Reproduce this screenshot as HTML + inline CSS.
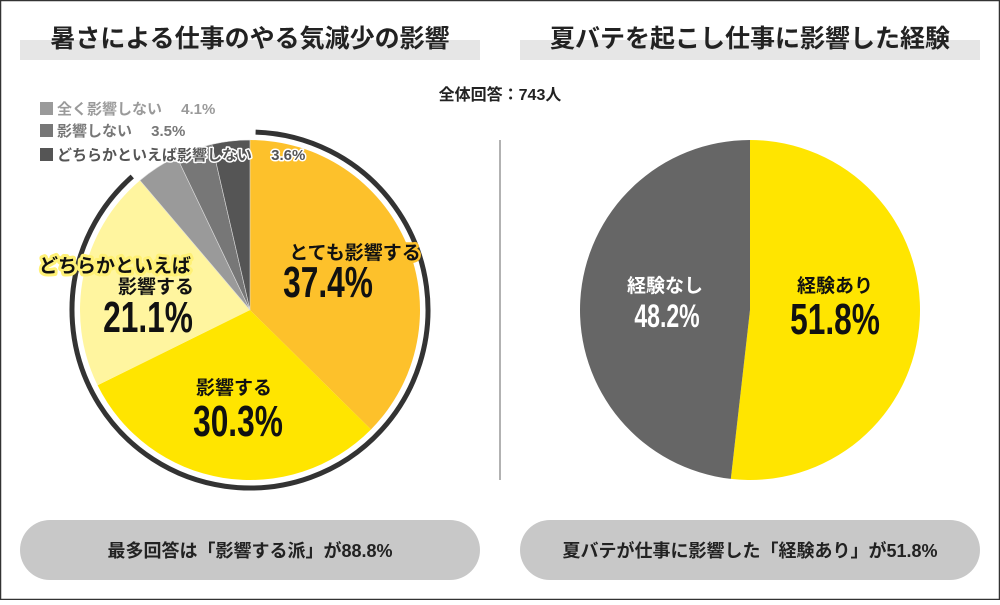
<!DOCTYPE html>
<html><head><meta charset="utf-8">
<style>
html,body{margin:0;padding:0;background:#fff;}
body{width:1000px;height:600px;overflow:hidden;font-family:"Liberation Sans","Noto Sans CJK JP",sans-serif;}
svg text{font-family:"Liberation Sans","Noto Sans CJK JP",sans-serif;}
</style></head>
<body>
<svg id="chart" width="1000" height="600" viewBox="0 0 1000 600" xmlns="http://www.w3.org/2000/svg">
  <rect x="0.5" y="0.5" width="999" height="599" fill="#fff" stroke="#333" stroke-width="1.5"/>
  <rect x="20" y="40" width="460" height="20" fill="#e6e6e6"/>
  <text x="250" y="47" text-anchor="middle" font-size="25" font-weight="bold" fill="#222">暑さによる仕事のやる気減少の影響</text>
  <rect x="520" y="40" width="460" height="20" fill="#e6e6e6"/>
  <text x="750" y="47" text-anchor="middle" font-size="25" font-weight="bold" fill="#222">夏バテを起こし仕事に影響した経験</text>
  <text x="500" y="100" text-anchor="middle" font-size="16" font-weight="bold" fill="#222">全体回答：743人</text>
  <line x1="500" y1="140" x2="500" y2="480" stroke="#999" stroke-width="1.5"/>
  <g id="leftPie"></g>
  <g id="rightPie"></g>
  <g id="labels"></g>
  <rect x="20" y="520" width="460" height="60" rx="30" fill="#c8c8c8"/>
  <text x="250" y="557" text-anchor="middle" font-size="18" font-weight="bold" fill="#222">最多回答は「影響する派」が88.8%</text>
  <rect x="520" y="520" width="460" height="60" rx="30" fill="#c8c8c8"/>
  <text x="750" y="557" text-anchor="middle" font-size="18" font-weight="bold" fill="#222">夏バテが仕事に影響した「経験あり」が51.8%</text>
</svg>
<script>
const leftCategories = ["とても影響する","影響する","どちらかといえば影響する","全く影響しない","影響しない","どちらかといえば影響しない"];
const leftValues = [37.4, 30.3, 21.1, 4.1, 3.5, 3.6];
const leftColors = ["#fdc12b","#ffe500","#fff59f","#9a9a9a","#777777","#555555"];
const rightCategories = ["経験あり","経験なし"];
const rightValues = [51.8, 48.2];
const rightColors = ["#ffe500","#666666"];
const NS = "http://www.w3.org/2000/svg";

function pt(cx, cy, r, frac){ const a = frac*2*Math.PI; return [cx + r*Math.sin(a), cy - r*Math.cos(a)]; }
function drawPie(g, vals, colors, cats, cx, cy, r, sep){
  const total = vals.reduce((a,b)=>a+b,0);
  let acc = 0;
  vals.forEach((v,i)=>{
    const f0 = acc/total, f1 = (acc+v)/total; acc += v;
    const p0 = pt(cx,cy,r,f0), p1 = pt(cx,cy,r,f1);
    const large = (f1-f0) > 0.5 ? 1 : 0;
    const p = document.createElementNS(NS,"path");
    p.setAttribute("d",`M${cx},${cy} L${p0[0]},${p0[1]} A${r},${r} 0 ${large} 1 ${p1[0]},${p1[1]} Z`);
    p.setAttribute("fill",colors[i]);
    if (sep && i>=3) { p.setAttribute("stroke","#ddd"); p.setAttribute("stroke-width","0.6"); }
    
    
    g.appendChild(p);
  });
}
drawPie(document.getElementById("leftPie"), leftValues, leftColors, leftCategories, 250, 310, 170, true);
drawPie(document.getElementById("rightPie"), rightValues, rightColors, rightCategories, 750, 310, 170, false);

(function(){
  const total = leftValues.reduce((a,b)=>a+b,0);
  const frac = (leftValues[0]+leftValues[1]+leftValues[2])/total;
  const r = 178, cx=250, cy=310;
  const p0 = pt(cx,cy,r,0.005), p1 = pt(cx,cy,r,frac-0.003);
  const arc = document.createElementNS(NS,"path");
  arc.setAttribute("d",`M${p0[0]},${p0[1]} A${r},${r} 0 1 1 ${p1[0]},${p1[1]}`);
  arc.setAttribute("fill","none");
  arc.setAttribute("stroke","#333");
  arc.setAttribute("stroke-width","5");
  
  
  document.getElementById("leftPie").appendChild(arc);
})();

const lab = document.getElementById("labels");
function txt(x,y,s,size,opts){
  opts = opts||{};
  const t = document.createElementNS(NS,"text");
  t.setAttribute("x",x); t.setAttribute("y",y);
  t.setAttribute("font-size",size);
  t.setAttribute("font-weight","bold");
  t.setAttribute("text-anchor",opts.anchor||"middle");
  t.setAttribute("fill",opts.fill||"#111");
  if (opts.stroke){ t.setAttribute("stroke",opts.stroke); t.setAttribute("stroke-width",opts.sw||4); t.setAttribute("paint-order","stroke"); t.setAttribute("stroke-linejoin","round"); }
  if (opts.condensed){ t.setAttribute("transform",`translate(${x},${y}) scale(0.72,1) translate(${-x},${-y})`); }
  t.textContent = s;
  
  
  lab.appendChild(t);
}
function pct(v){ return v.toFixed(1)+"%"; }
txt(355,259,leftCategories[0],19,{stroke:"#fdc12b",sw:5,name:"label-very-affected"});
txt(328,297,pct(leftValues[0]),44,{condensed:true,name:"value-very-affected"});
txt(234,394,leftCategories[1],19,{name:"label-affected"});
txt(238,436,pct(leftValues[1]),44,{condensed:true,name:"value-affected"});
txt(115,272,"どちらかといえば",19,{stroke:"#fff176",sw:6,name:"label-somewhat-affected-1"});
txt(156,293,"影響する",19,{name:"label-somewhat-affected-2"});
txt(148,332,pct(leftValues[2]),44,{condensed:true,name:"value-somewhat-affected"});
const legY=[114,136,160];
const legTxt=[leftCategories[3]+"　 "+pct(leftValues[3]), leftCategories[4]+"　 "+pct(leftValues[4]), leftCategories[5]+"　 "+pct(leftValues[5])];
legY.forEach((y,i)=>{
  const r=document.createElementNS(NS,"rect");
  r.setAttribute("x",40); r.setAttribute("y",y-12); r.setAttribute("width",13); r.setAttribute("height",13);
  r.setAttribute("fill",leftColors[3+i]);
  
  
  lab.appendChild(r);
  txt(57,y,legTxt[i],15,{anchor:"start",fill:leftColors[3+i],stroke:"#fff",sw:3,name:"legend-entry"});
});
txt(835,292,rightCategories[0],19,{name:"label-experienced"});
txt(835,334,pct(rightValues[0]),44,{condensed:true,name:"value-experienced"});
txt(665,292,rightCategories[1],19,{fill:"#fff",name:"label-not-experienced"});
txt(667,327,pct(rightValues[1]),32,{fill:"#fff",condensed:true,name:"value-not-experienced"});
</script>
</body></html>
